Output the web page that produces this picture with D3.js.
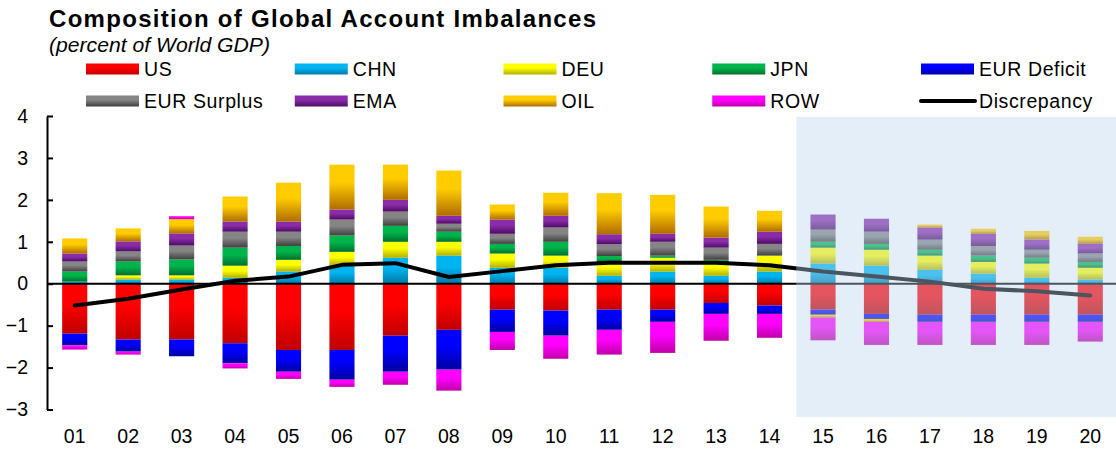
<!DOCTYPE html>
<html>
<head>
<meta charset="utf-8">
<script src="https://cdn.jsdelivr.net/npm/d3@7"></script>
<style>
  body { margin: 0; background: #fff; }
  svg { display: block; font-family: "Liberation Sans", Arial, sans-serif; }
</style>
</head>
<body>
<svg id="chart"></svg>
<script>
// Composition of Global Account Imbalances

const years = ['01','02','03','04','05','06','07','08','09','10','11','12','13','14','15','16','17','18','19','20'];

const US   = [-1.19,-1.33,-1.33,-1.42,-1.58,-1.58,-1.24,-1.10,-0.62,-0.64,-0.62,-0.62,-0.46,-0.52,-0.62,-0.72,-0.74,-0.74,-0.74,-0.74];
const CHN  = [0.05,0.10,0.10,0.14,0.29,0.44,0.62,0.67,0.38,0.38,0.19,0.29,0.19,0.29,0.48,0.43,0.33,0.24,0.14,0.10];
const DEU  = [0.00,0.10,0.10,0.29,0.28,0.32,0.38,0.33,0.34,0.29,0.33,0.33,0.33,0.38,0.38,0.38,0.34,0.28,0.34,0.28];
const JPN  = [0.24,0.33,0.38,0.43,0.33,0.39,0.38,0.24,0.23,0.33,0.14,0.05,0.05,0.00,0.14,0.14,0.14,0.15,0.14,0.14];
const EURD = [-0.28,-0.29,-0.40,-0.48,-0.52,-0.71,-0.86,-0.95,-0.53,-0.60,-0.48,-0.29,-0.26,-0.20,-0.12,-0.12,-0.17,-0.17,-0.17,-0.17];
const EURS = [0.24,0.24,0.33,0.38,0.34,0.38,0.34,0.19,0.24,0.34,0.28,0.33,0.29,0.28,0.29,0.29,0.24,0.23,0.19,0.20];
const EMA  = [0.19,0.24,0.29,0.24,0.24,0.24,0.28,0.19,0.34,0.28,0.24,0.19,0.24,0.29,0.36,0.31,0.29,0.29,0.24,0.23];
const OIL  = [0.36,0.31,0.34,0.60,0.93,1.07,0.84,1.08,0.36,0.55,0.98,0.93,0.74,0.50,-0.07,-0.07,0.07,0.12,0.21,0.17];
const ROW  = [-0.10,-0.07,0.07,-0.12,-0.17,-0.17,-0.31,-0.50,-0.43,-0.55,-0.59,-0.74,-0.64,-0.57,-0.54,-0.55,-0.55,-0.55,-0.55,-0.47];
const discrepancy = [-0.52,-0.36,-0.14,0.07,0.17,0.45,0.49,0.16,0.30,0.44,0.50,0.50,0.50,0.44,0.29,0.17,0.05,-0.12,-0.18,-0.28];

const yTicks = [-3,-2,-1,0,1,2,3,4];
const forecastStart = '15';

// series in stacking order (positives stack up, negatives stack down)
const series = [
  { key: 'US',          values: US,   c1: '#ff0000', c2: '#c00000' },
  { key: 'CHN',         values: CHN,  c1: '#00b4f0', c2: '#0078a8' },
  { key: 'DEU',         values: DEU,  c1: '#ffff00', c2: '#b0b000' },
  { key: 'JPN',         values: JPN,  c1: '#00b44c', c2: '#00702c' },
  { key: 'EUR Deficit', values: EURD, c1: '#0000ff', c2: '#0000a0' },
  { key: 'EUR Surplus', values: EURS, c1: '#858585', c2: '#404040' },
  { key: 'EMA',         values: EMA,  c1: '#8a2ca8', c2: '#4c0c64' },
  { key: 'OIL',         values: OIL,  c1: '#ffcc00', c2: '#b06c00' },
  { key: 'ROW',         values: ROW,  c1: '#ff00ff', c2: '#c000a8' }
];

const legendRows = [
  ['US', 'CHN', 'DEU', 'JPN', 'EUR Deficit'],
  ['EUR Surplus', 'EMA', 'OIL', 'ROW', 'Discrepancy']
];

const width = 1116, height = 450;
const svg = d3.select('#chart').attr('width', width).attr('height', height);

const table = years.map((y, i) => {
  const row = { year: y };
  series.forEach(s => { row[s.key] = s.values[i]; });
  return row;
});

const stacked = d3.stack()
  .keys(series.map(s => s.key))
  .offset(d3.stackOffsetDiverging)(table);

// Scales
const xScale = d3.scaleBand()
  .domain(years)
  .range([48, 1117])
  .paddingInner(0.53)
  .paddingOuter(0.265);

const yScale = d3.scaleLinear()
  .domain([-3, 4])
  .range([409.5, 116]);

// Gradients
const defs = svg.append('defs');
series.forEach((s, i) => {
  const g = defs.append('linearGradient')
    .attr('id', 'grad' + i)
    .attr('x1', 0).attr('y1', 0).attr('x2', 0).attr('y2', 1);
  g.append('stop').attr('offset', '0%').attr('stop-color', s.c1);
  g.append('stop').attr('offset', '40%').attr('stop-color', s.c1);
  g.append('stop').attr('offset', '100%').attr('stop-color', s.c2);
});

// Title
svg.append('text')
  .attr('x', 49).attr('y', 27)
  .attr('textLength', 547).attr('lengthAdjust', 'spacing')
  .style('font-size', '24px').style('font-weight', 'bold')
  .text('Composition of Global Account Imbalances');

svg.append('text')
  .attr('x', 49).attr('y', 52)
  .attr('textLength', 221).attr('lengthAdjust', 'spacingAndGlyphs')
  .style('font-size', '20px').style('font-style', 'italic')
  .text('(percent of World GDP)');

// Legend
const legend = svg.append('g').attr('class', 'legend');
legendRows.forEach((row, r) => {
  row.forEach((key, c) => {
    const lx = 86 + c * 208.75;
    const ly = r === 0 ? 69 : 101;
    const idx = series.findIndex(s => s.key === key);
    if (idx >= 0) {
      legend.append('rect')
        .attr('x', lx).attr('y', ly - 5.5)
        .attr('width', 53).attr('height', 11)
        .attr('fill', `url(#grad${idx})`);
    } else {
      legend.append('line')
        .attr('x1', lx).attr('x2', lx + 54)
        .attr('y1', ly).attr('y2', ly)
        .attr('stroke', '#000').attr('stroke-width', 4)
        .attr('stroke-linecap', 'round');
    }
    legend.append('text')
      .attr('x', lx + 58).attr('y', ly + 7)
      .style('font-size', '19.5px')
      .style('letter-spacing', '0.6px')
      .text(key);
  });
});

// Bars
const plot = svg.append('g');
stacked.forEach((layer, i) => {
  plot.append('g')
    .attr('fill', `url(#grad${i})`)
    .selectAll('rect')
    .data(layer)
    .enter()
    .append('rect')
    .attr('x', d => xScale(d.data.year))
    .attr('width', xScale.bandwidth())
    .attr('y', d => yScale(d[1]))
    .attr('height', d => Math.max(0, yScale(d[0]) - yScale(d[1])));
});

// Zero line
plot.append('line')
  .attr('x1', 47).attr('x2', width)
  .attr('y1', yScale(0)).attr('y2', yScale(0))
  .attr('stroke', '#000').attr('stroke-width', 2);

// Discrepancy line
const line = d3.line()
  .x((d, i) => xScale(years[i]) + xScale.bandwidth() / 2)
  .y(d => yScale(d));

plot.append('path')
  .datum(discrepancy)
  .attr('d', line)
  .attr('fill', 'none')
  .attr('stroke', '#000')
  .attr('stroke-width', 4)
  .attr('stroke-linejoin', 'round')
  .attr('stroke-linecap', 'round');

// Forecast shading on top
const fx = xScale(forecastStart) - xScale.step() * xScale.paddingInner() / 2;
svg.append('rect')
  .attr('x', fx).attr('y', 117)
  .attr('width', width - fx).attr('height', 300)
  .attr('fill', 'rgb(188,212,237)')
  .attr('fill-opacity', 0.4);

// Y axis
const yAxis = d3.axisLeft(yScale)
  .tickValues(yTicks)
  .tickSizeInner(-6)
  .tickSizeOuter(0)
  .tickPadding(19)
  .tickFormat(d3.format('d'));

const yg = svg.append('g')
  .attr('transform', 'translate(47,0)')
  .call(yAxis);
yg.select('.domain').attr('stroke', '#000').attr('stroke-width', 2);
yg.selectAll('.tick line').attr('stroke', '#000').attr('stroke-width', 2);
yg.selectAll('.tick text')
  .style('font-size', '19.5px')
  .style('font-family', '"Liberation Sans", Arial, sans-serif')
  .attr('fill', '#000');

// X labels
svg.append('g')
  .selectAll('text')
  .data(years)
  .enter()
  .append('text')
  .attr('x', d => xScale(d) + xScale.bandwidth() / 2)
  .attr('y', 443)
  .attr('text-anchor', 'middle')
  .style('font-size', '19.5px')
  .text(d => d);
</script>
</body>
</html>
